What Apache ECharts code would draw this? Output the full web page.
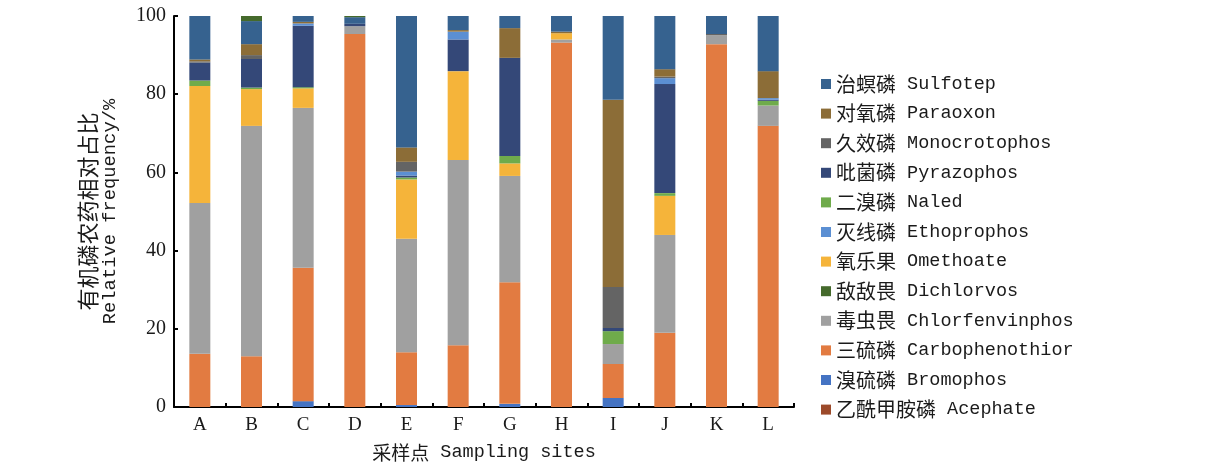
<!DOCTYPE html>
<html>
<head>
<meta charset="utf-8">
<script src="https://cdn.jsdelivr.net/npm/echarts@6/dist/echarts.min.js"></script>
<style>
  html, body { margin: 0; padding: 0; background: #ffffff; }
  #chart { width: 1220px; height: 467px; }
</style>
</head>
<body>
<div id="chart"></div>
<script>
// Sampling sites
const sites = ['A', 'B', 'C', 'D', 'E', 'F', 'G', 'H', 'I', 'J', 'K', 'L'];

// Relative frequency (%) of each organophosphorus pesticide per site
const acephate        = [0, 0, 0, 0, 0, 0, 0, 0, 0, 0, 0, 0];
const bromophos       = [0, 0, 1.5, 0, 0.5, 0, 0.8, 0, 2.3, 0, 0, 0];
const carbophenothion = [13.6, 13.0, 34.1, 95.4, 13.5, 15.8, 31.1, 93.2, 8.7, 19.0, 92.8, 71.9];
const chlorfenvinphos = [38.6, 58.9, 40.9, 2.0, 29.0, 47.4, 27.2, 0.8, 5.1, 25.0, 2.3, 5.2];
const omethoate       = [29.9, 9.4, 5.0, 0, 15.2, 22.7, 3.2, 1.6, 0, 10.0, 0, 0];
const naled           = [1.4, 0.4, 0.3, 0, 0.5, 0, 1.9, 0, 3.3, 0.7, 0, 1.2];
const pyrazophos      = [4.6, 7.3, 15.7, 0.6, 0.5, 8.1, 25.1, 0, 0.8, 27.9, 0, 0.3];
const ethoprophos     = [0, 0, 0.6, 0, 1.0, 2.0, 0, 0, 0, 1.5, 0, 0.4];
const monocrotophos   = [0.3, 1.0, 0, 0, 2.5, 0, 0, 0, 10.5, 0.4, 0.3, 0];
const paraoxon        = [0.5, 2.8, 0.4, 0, 3.7, 0.4, 7.6, 0.4, 47.9, 1.9, 0, 6.9];
const sulfotep        = [11.1, 5.9, 1.5, 1.7, 33.6, 3.6, 3.1, 4.0, 21.4, 13.6, 4.6, 14.1];
const dichlorvos      = [0, 1.3, 0, 0.3, 0, 0, 0, 0, 0, 0, 0, 0];

// Y axis ticks
const yTicks = [0, 20, 40, 60, 80, 100];

// Stack order, bottom to top
const stackSeries = [
  { name: '乙酰甲胺磷 Acephate',        data: acephate,        color: '#9c4a2a' },
  { name: '溴硫磷 Bromophos',            data: bromophos,       color: '#4473c3' },
  { name: '三硫磷 Carbophenothior',      data: carbophenothion, color: '#e27b41' },
  { name: '毒虫畏 Chlorfenvinphos',      data: chlorfenvinphos, color: '#a0a0a0' },
  { name: '氧乐果 Omethoate',            data: omethoate,       color: '#f5b43a' },
  { name: '二溴磷 Naled',                data: naled,           color: '#6fab4b' },
  { name: '吡菌磷 Pyrazophos',           data: pyrazophos,      color: '#344878' },
  { name: '灭线磷 Ethoprophos',          data: ethoprophos,     color: '#5b8fd3' },
  { name: '久效磷 Monocrotophos',        data: monocrotophos,   color: '#646464' },
  { name: '对氧磷 Paraoxon',             data: paraoxon,        color: '#8c6d37' },
  { name: '治螟磷 Sulfotep',             data: sulfotep,        color: '#36628f' },
  { name: '敌敌畏 Dichlorvos',           data: dichlorvos,      color: '#456a2c' }
];

// Legend order, top to bottom
const legendOrder = [
  '治螟磷 Sulfotep', '对氧磷 Paraoxon', '久效磷 Monocrotophos', '吡菌磷 Pyrazophos',
  '二溴磷 Naled', '灭线磷 Ethoprophos', '氧乐果 Omethoate', '敌敌畏 Dichlorvos',
  '毒虫畏 Chlorfenvinphos', '三硫磷 Carbophenothior', '溴硫磷 Bromophos', '乙酰甲胺磷 Acephate'
];

const ZH = '"Noto Sans CJK SC", sans-serif';
const EN = '"Liberation Mono", "DejaVu Sans Mono", monospace';
const NUM = '"Liberation Serif", "DejaVu Serif", serif';

function splitName(s) {
  const i = s.indexOf(' ');
  return [s.slice(0, i), s.slice(i + 1)];
}

const chart = echarts.init(document.getElementById('chart'), null, { renderer: 'canvas' });

chart.setOption({
  backgroundColor: '#ffffff',
  animation: false,
  grid: { left: 174, right: 426, top: 16, bottom: 60, containLabel: false },
  legend: {
    orient: 'vertical',
    left: 816,
    top: 69,
    data: legendOrder,
    icon: 'rect',
    itemWidth: 10,
    itemHeight: 10,
    itemGap: 9.6,
    formatter: function (name) {
      const p = splitName(name);
      return '{zh|' + p[0] + '}{en| ' + p[1] + '}';
    },
    textStyle: {
      color: '#1a1a1a',
      rich: {
        zh: { fontFamily: ZH, fontSize: 20, lineHeight: 20, color: '#1a1a1a' },
        en: { fontFamily: EN, fontSize: 18.5, lineHeight: 20, color: '#1a1a1a' }
      }
    }
  },
  xAxis: {
    type: 'category',
    data: sites,
    name: '{zh|采样点}{en| Sampling sites}',
    nameLocation: 'middle',
    nameGap: 36,
    nameTextStyle: {
      rich: {
        zh: { fontFamily: ZH, fontSize: 19, color: '#1a1a1a' },
        en: { fontFamily: EN, fontSize: 18.5, color: '#1a1a1a' }
      }
    },
    axisLine: { lineStyle: { color: '#000', width: 2 } },
    axisTick: { show: true, inside: true, length: 4, alignWithLabel: false, lineStyle: { color: '#000', width: 2 } },
    axisLabel: { fontFamily: NUM, fontSize: 19, color: '#1a1a1a', margin: 9 }
  },
  yAxis: {
    type: 'value',
    min: yTicks[0],
    max: yTicks[yTicks.length - 1],
    interval: yTicks[1] - yTicks[0],
    name: '{zh|有机磷农药相对占比}\n{en|Relative frequency/%}',
    nameLocation: 'middle',
    nameRotate: 90,
    nameGap: 54,
    nameTextStyle: {
      rich: {
        zh: { fontFamily: ZH, fontSize: 22, lineHeight: 25, color: '#1a1a1a' },
        en: { fontFamily: EN, fontSize: 18.8, lineHeight: 20, color: '#1a1a1a' }
      }
    },
    axisLine: { show: true, lineStyle: { color: '#000', width: 2 } },
    axisTick: { show: true, inside: true, length: 4, lineStyle: { color: '#000', width: 2 } },
    splitLine: { show: false },
    axisLabel: { fontFamily: NUM, fontSize: 20, color: '#1a1a1a', margin: 8 }
  },
  series: stackSeries.map(s => ({
    name: s.name,
    type: 'bar',
    stack: 'total',
    barWidth: 21,
    data: s.data,
    itemStyle: { color: s.color },
    emphasis: { disabled: true }
  }))
});
</script>
</body>
</html>
